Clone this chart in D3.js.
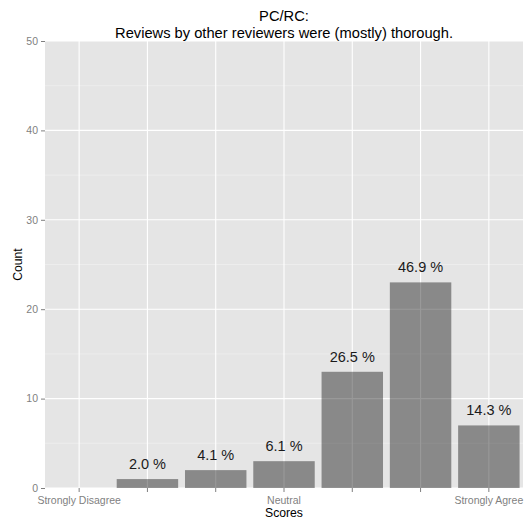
<!DOCTYPE html>
<html>
<head>
<meta charset="utf-8">
<script src="https://cdn.jsdelivr.net/npm/d3@7"></script>
<style>
  html, body { margin: 0; padding: 0; background: #fff; }
  svg { display: block; font-family: "Liberation Sans", Arial, Helvetica, sans-serif; }
</style>
</head>
<body>
<svg id="chart" width="526" height="525"></svg>
<script>
const categories = ["1", "2", "3", "4", "5", "6", "7"];
const counts = [0, 1, 2, 3, 13, 23, 7];
const xTickLabels = ["Strongly Disagree", "", "", "Neutral", "", "", "Strongly Agree"];
const yTicks = [0, 10, 20, 30, 40, 50];
const yMinorTicks = [5, 15, 25, 35, 45];
const titleLines = ["PC/RC:", "Reviews by other reviewers were (mostly) thorough."];

const total = d3.sum(counts);
const svg = d3.select("#chart");

const panel = { left: 45, right: 523, top: 41, bottom: 488 };

const x = d3.scaleBand()
  .domain(categories)
  .range([panel.left, panel.right])
  .paddingInner(0.1)
  .paddingOuter(0.05);

const y = d3.scaleLinear()
  .domain([0, 50])
  .range([panel.bottom, panel.top]);

// panel background
svg.append("rect")
  .attr("x", panel.left).attr("y", panel.top)
  .attr("width", panel.right - panel.left)
  .attr("height", panel.bottom - panel.top)
  .attr("fill", "#E5E5E5");

// minor grid
svg.append("g").selectAll("line").data(yMinorTicks).join("line")
  .attr("x1", panel.left).attr("x2", panel.right)
  .attr("y1", d => y(d)).attr("y2", d => y(d))
  .attr("stroke", "#F2F2F2").attr("stroke-width", 0.6);

// major grid
svg.append("g").selectAll("line").data(yTicks).join("line")
  .attr("x1", panel.left).attr("x2", panel.right)
  .attr("y1", d => y(d)).attr("y2", d => y(d))
  .attr("stroke", "#FFFFFF").attr("stroke-width", 1.1);

svg.append("g").selectAll("line").data(categories).join("line")
  .attr("x1", d => x(d) + x.bandwidth() / 2).attr("x2", d => x(d) + x.bandwidth() / 2)
  .attr("y1", panel.top).attr("y2", panel.bottom)
  .attr("stroke", "#FFFFFF").attr("stroke-width", 1.1);

// bars
svg.append("g").selectAll("rect").data(categories).join("rect")
  .attr("x", d => x(d))
  .attr("width", x.bandwidth())
  .attr("y", (d, i) => y(counts[i]))
  .attr("height", (d, i) => y(0) - y(counts[i]))
  .attr("fill", "#000000")
  .attr("fill-opacity", 0.4);

// bar labels
svg.append("g").selectAll("text").data(categories).join("text")
  .attr("x", d => x(d) + x.bandwidth() / 2)
  .attr("y", (d, i) => y(counts[i]) - 10)
  .attr("text-anchor", "middle")
  .attr("font-size", "14.5px")
  .attr("fill", "#1a1a1a")
  .text((d, i) => counts[i] > 0 ? (counts[i] / total * 100).toFixed(1) + " %" : "");

// y axis
const yAxis = svg.append("g")
  .attr("transform", `translate(${panel.left},0)`)
  .call(d3.axisLeft(y).tickValues(yTicks).tickSize(4).tickPadding(3));
yAxis.select(".domain").remove();
yAxis.selectAll(".tick line").attr("stroke", "#7F7F7F");
yAxis.selectAll(".tick text")
  .attr("fill", "#7F7F7F")
  .attr("font-size", "10.5px")
  .attr("font-family", "Liberation Sans, Arial, sans-serif");

// x axis
const xAxis = svg.append("g")
  .attr("transform", `translate(0,${panel.bottom})`)
  .call(d3.axisBottom(x).tickSize(4).tickPadding(4.5)
    .tickFormat((d, i) => xTickLabels[i]));
xAxis.select(".domain").remove();
xAxis.selectAll(".tick line").attr("stroke", "#7F7F7F");
xAxis.selectAll(".tick text")
  .attr("fill", "#7F7F7F")
  .attr("font-size", "10.5px")
  .attr("font-family", "Liberation Sans, Arial, sans-serif");

const cx = (panel.left + panel.right) / 2;
const cy = (panel.top + panel.bottom) / 2;

// axis titles
svg.append("text")
  .attr("x", cx).attr("y", 517)
  .attr("text-anchor", "middle")
  .attr("font-size", "12.2px")
  .attr("fill", "#000")
  .text("Scores");

svg.append("text")
  .attr("transform", `translate(22,${cy}) rotate(-90)`)
  .attr("text-anchor", "middle")
  .attr("font-size", "12.2px")
  .attr("fill", "#000")
  .text("Count");

// title
svg.append("g").selectAll("text").data(titleLines).join("text")
  .attr("x", cx)
  .attr("y", (d, i) => 21 + i * 17)
  .attr("text-anchor", "middle")
  .attr("font-size", "14.7px")
  .attr("fill", "#000")
  .text(d => d);
</script>
</body>
</html>
